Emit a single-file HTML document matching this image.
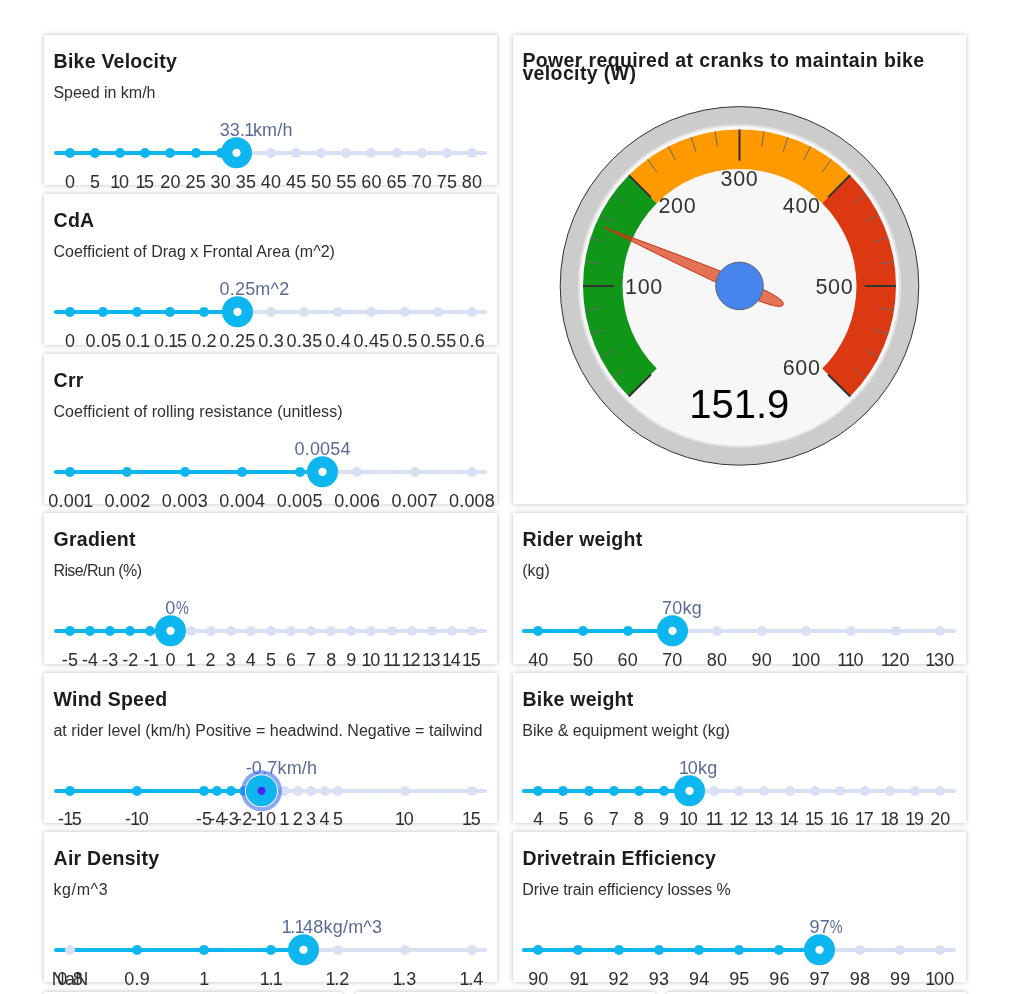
<!DOCTYPE html>
<html lang="en">
<head>
<meta charset="utf-8">
<title>Cycling power calculator</title>
<style>
html,body{margin:0;padding:0;background:#fff;}
body{width:1024px;height:994px;overflow:hidden;position:relative;font-family:"Liberation Sans",sans-serif;color:#1f1f1f;}
.card{position:absolute;background:#fff;box-shadow:0 0 5px rgba(0,0,0,.27);width:453.5px;height:150.4px;}
.card h3{position:absolute;left:9.8px;top:13.95px;margin:0;font-size:19.5px;line-height:24px;font-weight:bold;letter-spacing:.25px;white-space:nowrap;color:#1c1c1c;}
.card p{position:absolute;left:9.7px;top:49px;margin:0;font-size:16px;line-height:18px;letter-spacing:-.02px;white-space:nowrap;color:#303030;}
.sl{position:absolute;left:10px;right:10px;top:116px;height:4px;}
.sl.r{left:9.5px;right:10.5px;}
.rail{position:absolute;left:0;right:0;top:0;height:4px;border-radius:2px;background:#d9e0f3;}
.proc{position:absolute;left:0;top:0;height:4px;border-radius:2px;background:#0db6ee;}
.marks{position:absolute;left:16.2px;width:402px;top:0;height:4px;}
.m{position:absolute;top:-3px;width:10px;height:10px;margin-left:-5px;border-radius:50%;background:#d9e0f3;}
.m.a{background:#0db6ee;}
.l{position:absolute;top:20.9px;width:80px;margin-left:-40px;text-align:center;font-size:18px;line-height:20px;letter-spacing:.2px;text-indent:.2px;color:#2e2e2e;white-space:nowrap;}
.dot{position:absolute;top:-14px;width:31px;height:31px;margin-left:-15.5px;transform:translate(0,.3px);border-radius:50%;background:radial-gradient(circle at 50% 50%,#fff 0,#fff 3.7px,#0db6ee 4.5px,#0db6ee 100%);}
.dot.f{box-shadow:0 0 0 1px #fff,0 0 0 5px rgba(66,112,240,.62);}
.dot.f{background:radial-gradient(circle at 50% 50%,#4a25f0 0,#4a25f0 3.6px,#0db6ee 4.4px,#0db6ee 100%);}
.tip{position:absolute;top:-31.1px;width:0;height:20px;font-size:18px;line-height:20px;letter-spacing:.2px;color:#5b6b95;white-space:nowrap;}
.tip b{position:absolute;top:0;left:0;transform:translateX(-50%);font-weight:normal;}
.l i,.tip i{font-style:normal;margin:0 -1.6px 0 -1px;}
.tip u{position:absolute;left:100%;top:0;text-decoration:none;}
.tip u.p{transform:scaleX(.8);transform-origin:0 50%;}

.card h3.gt{line-height:13px;top:18.6px;letter-spacing:.37px;}
</style>
</head>
<body>
<div class="card" style="left:43.75px;top:35.0px;width:453.5px">
<h3>Bike Velocity</h3>
<p>Speed in km/h</p>
<div class="sl"><div class="rail"></div>
<div class="proc" style="width:calc(16.2px + 402px * 0.4138)"></div>
<div class="marks">
<span class="m a" style="left:0%"></span>
<span class="m a" style="left:6.25%"></span>
<span class="m a" style="left:12.5%"></span>
<span class="m a" style="left:18.75%"></span>
<span class="m a" style="left:25%"></span>
<span class="m a" style="left:31.25%"></span>
<span class="m a" style="left:37.5%"></span>
<span class="m" style="left:43.75%"></span>
<span class="m" style="left:50%"></span>
<span class="m" style="left:56.25%"></span>
<span class="m" style="left:62.5%"></span>
<span class="m" style="left:68.75%"></span>
<span class="m" style="left:75%"></span>
<span class="m" style="left:81.25%"></span>
<span class="m" style="left:87.5%"></span>
<span class="m" style="left:93.75%"></span>
<span class="m" style="left:100%"></span>
<span class="l" style="left:0%">0</span>
<span class="l" style="left:6.25%">5</span>
<span class="l" style="left:12.5%"><i>1</i>0</span>
<span class="l" style="left:18.75%"><i>1</i>5</span>
<span class="l" style="left:25%">20</span>
<span class="l" style="left:31.25%">25</span>
<span class="l" style="left:37.5%">30</span>
<span class="l" style="left:43.75%">35</span>
<span class="l" style="left:50%">40</span>
<span class="l" style="left:56.25%">45</span>
<span class="l" style="left:62.5%">50</span>
<span class="l" style="left:68.75%">55</span>
<span class="l" style="left:75%">60</span>
<span class="l" style="left:81.25%">65</span>
<span class="l" style="left:87.5%">70</span>
<span class="l" style="left:93.75%">75</span>
<span class="l" style="left:100%">80</span>
<span class="tip" style="left:41.375%"><b>33.<i>1</i><u>km/h</u></b></span>
<span class="dot" style="left:41.375%"></span>
</div></div>
</div>
<div class="card" style="left:43.75px;top:194.4px;width:453.5px">
<h3>CdA</h3>
<p style="letter-spacing:0.01px">Coefficient of Drag x Frontal Area (m^2)</p>
<div class="sl"><div class="rail"></div>
<div class="proc" style="width:calc(16.2px + 402px * 0.4167)"></div>
<div class="marks">
<span class="m a" style="left:0%"></span>
<span class="m a" style="left:8.3333%"></span>
<span class="m a" style="left:16.6667%"></span>
<span class="m a" style="left:25%"></span>
<span class="m a" style="left:33.3333%"></span>
<span class="m a" style="left:41.6667%"></span>
<span class="m" style="left:50%"></span>
<span class="m" style="left:58.3333%"></span>
<span class="m" style="left:66.6667%"></span>
<span class="m" style="left:75%"></span>
<span class="m" style="left:83.3333%"></span>
<span class="m" style="left:91.6667%"></span>
<span class="m" style="left:100%"></span>
<span class="l" style="left:0%">0</span>
<span class="l" style="left:8.3333%">0.05</span>
<span class="l" style="left:16.6667%">0.<i>1</i></span>
<span class="l" style="left:25%">0.<i>1</i>5</span>
<span class="l" style="left:33.3333%">0.2</span>
<span class="l" style="left:41.6667%">0.25</span>
<span class="l" style="left:50%">0.3</span>
<span class="l" style="left:58.3333%">0.35</span>
<span class="l" style="left:66.6667%">0.4</span>
<span class="l" style="left:75%">0.45</span>
<span class="l" style="left:83.3333%">0.5</span>
<span class="l" style="left:91.6667%">0.55</span>
<span class="l" style="left:100%">0.6</span>
<span class="tip" style="left:41.6667%"><b>0.25<u>m^2</u></b></span>
<span class="dot" style="left:41.6667%"></span>
</div></div>
</div>
<div class="card" style="left:43.75px;top:353.8px;width:453.5px">
<h3>Crr</h3>
<p style="letter-spacing:0.05px">Coefficient of rolling resistance (unitless)</p>
<div class="sl"><div class="rail"></div>
<div class="proc" style="width:calc(16.2px + 402px * 0.6286)"></div>
<div class="marks">
<span class="m a" style="left:0%"></span>
<span class="m a" style="left:14.2857%"></span>
<span class="m a" style="left:28.5714%"></span>
<span class="m a" style="left:42.8571%"></span>
<span class="m a" style="left:57.1429%"></span>
<span class="m" style="left:71.4286%"></span>
<span class="m" style="left:85.7143%"></span>
<span class="m" style="left:100%"></span>
<span class="l" style="left:0%">0.00<i>1</i></span>
<span class="l" style="left:14.2857%">0.002</span>
<span class="l" style="left:28.5714%">0.003</span>
<span class="l" style="left:42.8571%">0.004</span>
<span class="l" style="left:57.1429%">0.005</span>
<span class="l" style="left:71.4286%">0.006</span>
<span class="l" style="left:85.7143%">0.007</span>
<span class="l" style="left:100%">0.008</span>
<span class="tip" style="left:62.8571%"><b>0.0054<u></u></b></span>
<span class="dot" style="left:62.8571%"></span>
</div></div>
</div>
<div class="card" style="left:43.75px;top:513.2px;width:453.5px">
<h3>Gradient</h3>
<p style="letter-spacing:-0.6px">Rise/Run (%)</p>
<div class="sl"><div class="rail"></div>
<div class="proc" style="width:calc(16.2px + 402px * 0.25)"></div>
<div class="marks">
<span class="m a" style="left:0%"></span>
<span class="m a" style="left:5%"></span>
<span class="m a" style="left:10%"></span>
<span class="m a" style="left:15%"></span>
<span class="m a" style="left:20%"></span>
<span class="m a" style="left:25%"></span>
<span class="m" style="left:30%"></span>
<span class="m" style="left:35%"></span>
<span class="m" style="left:40%"></span>
<span class="m" style="left:45%"></span>
<span class="m" style="left:50%"></span>
<span class="m" style="left:55%"></span>
<span class="m" style="left:60%"></span>
<span class="m" style="left:65%"></span>
<span class="m" style="left:70%"></span>
<span class="m" style="left:75%"></span>
<span class="m" style="left:80%"></span>
<span class="m" style="left:85%"></span>
<span class="m" style="left:90%"></span>
<span class="m" style="left:95%"></span>
<span class="m" style="left:100%"></span>
<span class="l" style="left:0%">-5</span>
<span class="l" style="left:5%">-4</span>
<span class="l" style="left:10%">-3</span>
<span class="l" style="left:15%">-2</span>
<span class="l" style="left:20%">-<i>1</i></span>
<span class="l" style="left:25%">0</span>
<span class="l" style="left:30%"><i>1</i></span>
<span class="l" style="left:35%">2</span>
<span class="l" style="left:40%">3</span>
<span class="l" style="left:45%">4</span>
<span class="l" style="left:50%">5</span>
<span class="l" style="left:55%">6</span>
<span class="l" style="left:60%">7</span>
<span class="l" style="left:65%">8</span>
<span class="l" style="left:70%">9</span>
<span class="l" style="left:75%"><i>1</i>0</span>
<span class="l" style="left:80%"><i>1</i><i>1</i></span>
<span class="l" style="left:85%"><i>1</i>2</span>
<span class="l" style="left:90%"><i>1</i>3</span>
<span class="l" style="left:95%"><i>1</i>4</span>
<span class="l" style="left:100%"><i>1</i>5</span>
<span class="tip" style="left:25%"><b>0<u class="p">%</u></b></span>
<span class="dot" style="left:25%"></span>
</div></div>
</div>
<div class="card" style="left:43.75px;top:672.6px;width:453.5px">
<h3>Wind Speed</h3>
<p style="letter-spacing:0.02px">at rider level (km/h) Positive = headwind. Negative = tailwind</p>
<div class="sl"><div class="rail"></div>
<div class="proc" style="width:calc(16.2px + 402px * 0.4767)"></div>
<div class="marks">
<span class="m a" style="left:0%"></span>
<span class="m a" style="left:16.6667%"></span>
<span class="m a" style="left:33.3333%"></span>
<span class="m a" style="left:36.6667%"></span>
<span class="m a" style="left:40%"></span>
<span class="m a" style="left:43.3333%"></span>
<span class="m a" style="left:46.6667%"></span>
<span class="m" style="left:50%"></span>
<span class="m" style="left:53.3333%"></span>
<span class="m" style="left:56.6667%"></span>
<span class="m" style="left:60%"></span>
<span class="m" style="left:63.3333%"></span>
<span class="m" style="left:66.6667%"></span>
<span class="m" style="left:83.3333%"></span>
<span class="m" style="left:100%"></span>
<span class="l" style="left:0%">-<i>1</i>5</span>
<span class="l" style="left:16.6667%">-<i>1</i>0</span>
<span class="l" style="left:33.3333%">-5</span>
<span class="l" style="left:36.6667%">-4</span>
<span class="l" style="left:40%">-3</span>
<span class="l" style="left:43.3333%">-2</span>
<span class="l" style="left:46.6667%">-<i>1</i></span>
<span class="l" style="left:50%">0</span>
<span class="l" style="left:53.3333%"><i>1</i></span>
<span class="l" style="left:56.6667%">2</span>
<span class="l" style="left:60%">3</span>
<span class="l" style="left:63.3333%">4</span>
<span class="l" style="left:66.6667%">5</span>
<span class="l" style="left:83.3333%"><i>1</i>0</span>
<span class="l" style="left:100%"><i>1</i>5</span>
<span class="tip" style="left:47.6667%"><b>-0.7<u>km/h</u></b></span>
<span class="dot f" style="left:47.6667%"></span>
</div></div>
</div>
<div class="card" style="left:43.75px;top:832.0px;width:453.5px">
<h3>Air Density</h3>
<p style="letter-spacing:0.62px">kg/m^3</p>
<div class="sl"><div class="rail"></div>
<div class="proc" style="width:calc(16.2px + 402px * 0.58)"></div>
<div class="marks">
<span class="m" style="left:0%"></span>
<span class="m a" style="left:16.6667%"></span>
<span class="m a" style="left:33.3333%"></span>
<span class="m a" style="left:50%"></span>
<span class="m" style="left:66.6667%"></span>
<span class="m" style="left:83.3333%"></span>
<span class="m" style="left:100%"></span>
<span class="l" style="left:0%">NaN</span>
<span class="l" style="left:0%">0.8</span>
<span class="l" style="left:16.6667%">0.9</span>
<span class="l" style="left:33.3333%"><i>1</i></span>
<span class="l" style="left:50%"><i>1</i>.<i>1</i></span>
<span class="l" style="left:66.6667%"><i>1</i>.2</span>
<span class="l" style="left:83.3333%"><i>1</i>.3</span>
<span class="l" style="left:100%"><i>1</i>.4</span>
<span class="tip" style="left:58%"><b><i>1</i>.<i>1</i>48<u>kg/m^3</u></b></span>
<span class="dot" style="left:58%"></span>
</div></div>
</div>
<div class="card" style="left:512.6px;top:513.2px;width:453.6px">
<h3>Rider weight</h3>
<p>(kg)</p>
<div class="sl r"><div class="rail"></div>
<div class="proc" style="width:calc(16.2px + 402px * 0.3333)"></div>
<div class="marks">
<span class="m a" style="left:0%"></span>
<span class="m a" style="left:11.1111%"></span>
<span class="m a" style="left:22.2222%"></span>
<span class="m a" style="left:33.3333%"></span>
<span class="m" style="left:44.4444%"></span>
<span class="m" style="left:55.5556%"></span>
<span class="m" style="left:66.6667%"></span>
<span class="m" style="left:77.7778%"></span>
<span class="m" style="left:88.8889%"></span>
<span class="m" style="left:100%"></span>
<span class="l" style="left:0%">40</span>
<span class="l" style="left:11.1111%">50</span>
<span class="l" style="left:22.2222%">60</span>
<span class="l" style="left:33.3333%">70</span>
<span class="l" style="left:44.4444%">80</span>
<span class="l" style="left:55.5556%">90</span>
<span class="l" style="left:66.6667%"><i>1</i>00</span>
<span class="l" style="left:77.7778%"><i>1</i><i>1</i>0</span>
<span class="l" style="left:88.8889%"><i>1</i>20</span>
<span class="l" style="left:100%"><i>1</i>30</span>
<span class="tip" style="left:33.3333%"><b>70<u>kg</u></b></span>
<span class="dot" style="left:33.3333%"></span>
</div></div>
</div>
<div class="card" style="left:512.6px;top:672.6px;width:453.6px">
<h3>Bike weight</h3>
<p>Bike &amp; equipment weight (kg)</p>
<div class="sl r"><div class="rail"></div>
<div class="proc" style="width:calc(16.2px + 402px * 0.375)"></div>
<div class="marks">
<span class="m a" style="left:0%"></span>
<span class="m a" style="left:6.25%"></span>
<span class="m a" style="left:12.5%"></span>
<span class="m a" style="left:18.75%"></span>
<span class="m a" style="left:25%"></span>
<span class="m a" style="left:31.25%"></span>
<span class="m a" style="left:37.5%"></span>
<span class="m" style="left:43.75%"></span>
<span class="m" style="left:50%"></span>
<span class="m" style="left:56.25%"></span>
<span class="m" style="left:62.5%"></span>
<span class="m" style="left:68.75%"></span>
<span class="m" style="left:75%"></span>
<span class="m" style="left:81.25%"></span>
<span class="m" style="left:87.5%"></span>
<span class="m" style="left:93.75%"></span>
<span class="m" style="left:100%"></span>
<span class="l" style="left:0%">4</span>
<span class="l" style="left:6.25%">5</span>
<span class="l" style="left:12.5%">6</span>
<span class="l" style="left:18.75%">7</span>
<span class="l" style="left:25%">8</span>
<span class="l" style="left:31.25%">9</span>
<span class="l" style="left:37.5%"><i>1</i>0</span>
<span class="l" style="left:43.75%"><i>1</i><i>1</i></span>
<span class="l" style="left:50%"><i>1</i>2</span>
<span class="l" style="left:56.25%"><i>1</i>3</span>
<span class="l" style="left:62.5%"><i>1</i>4</span>
<span class="l" style="left:68.75%"><i>1</i>5</span>
<span class="l" style="left:75%"><i>1</i>6</span>
<span class="l" style="left:81.25%"><i>1</i>7</span>
<span class="l" style="left:87.5%"><i>1</i>8</span>
<span class="l" style="left:93.75%"><i>1</i>9</span>
<span class="l" style="left:100%">20</span>
<span class="tip" style="left:37.5%"><b><i>1</i>0<u>kg</u></b></span>
<span class="dot" style="left:37.5%"></span>
</div></div>
</div>
<div class="card" style="left:512.6px;top:832.0px;width:453.6px">
<h3>Drivetrain Efficiency</h3>
<p style="letter-spacing:-0.13px">Drive train efficiency losses %</p>
<div class="sl r"><div class="rail"></div>
<div class="proc" style="width:calc(16.2px + 402px * 0.7)"></div>
<div class="marks">
<span class="m a" style="left:0%"></span>
<span class="m a" style="left:10%"></span>
<span class="m a" style="left:20%"></span>
<span class="m a" style="left:30%"></span>
<span class="m a" style="left:40%"></span>
<span class="m a" style="left:50%"></span>
<span class="m a" style="left:60%"></span>
<span class="m a" style="left:70%"></span>
<span class="m" style="left:80%"></span>
<span class="m" style="left:90%"></span>
<span class="m" style="left:100%"></span>
<span class="l" style="left:0%">90</span>
<span class="l" style="left:10%">9<i>1</i></span>
<span class="l" style="left:20%">92</span>
<span class="l" style="left:30%">93</span>
<span class="l" style="left:40%">94</span>
<span class="l" style="left:50%">95</span>
<span class="l" style="left:60%">96</span>
<span class="l" style="left:70%">97</span>
<span class="l" style="left:80%">98</span>
<span class="l" style="left:90%">99</span>
<span class="l" style="left:100%"><i>1</i>00</span>
<span class="tip" style="left:70%"><b>97<u class="p">%</u></b></span>
<span class="dot" style="left:70%"></span>
</div></div>
</div>
<div class="card" style="left:512.6px;top:35.0px;width:453.6px;height:469.2px">
<h3 class="gt">Power required at cranks to maintain bike<br>velocity (W)</h3>
<svg class="gauge" width="453.6" height="469.2" viewBox="512.6 35 453.6 469.2" style="position:absolute;left:0;top:0">
<g>
<circle cx="739.1" cy="285.9" r="179.3" fill="#cccccc" stroke="#333333" stroke-width="1"/>
<circle cx="739.1" cy="285.9" r="160.8" fill="#f7f7f7" stroke="#e0e0e0" stroke-width="2"/>
<path d="M628.44,396.56A156.5,156.5 0 0 1 628.44,175.24L656.37,203.17A117,117 0 0 0 656.37,368.63Z" fill="#109618"/>
<path d="M628.44,175.24A156.5,156.5 0 0 1 849.76,175.24L821.83,203.17A117,117 0 0 0 656.37,203.17Z" fill="#ff9900"/>
<path d="M849.76,175.24A156.5,156.5 0 0 1 849.76,396.56L821.83,368.63A117,117 0 0 0 821.83,203.17Z" fill="#dc3912"/>
<text x="738.9" y="418" text-anchor="middle" font-family="Liberation Sans, Arial, sans-serif" font-size="40" fill="#000000">151.9</text>
<path d="M628.44,396.56L650.57,374.43M582.6,285.9L613.9,285.9M628.44,175.24L650.57,197.37M739.1,129.4L739.1,160.7M849.76,175.24L827.63,197.37M895.6,285.9L864.3,285.9M849.76,396.56L827.63,374.43" stroke="#333333" stroke-width="2" fill="none"/>
<path d="M612.49,377.89L625.03,368.78M599.66,356.95L613.47,349.91M590.26,334.26L605,329.47M584.53,310.38L599.84,307.96M584.53,261.42L599.84,263.84M590.26,237.54L605,242.33M599.66,214.85L613.47,221.89M612.49,193.91L625.03,203.02M647.11,159.29L656.22,171.83M668.05,146.46L675.09,160.27M690.74,137.06L695.53,151.8M714.62,131.33L717.04,146.64M763.58,131.33L761.16,146.64M787.46,137.06L782.67,151.8M810.15,146.46L803.11,160.27M831.09,159.29L821.98,171.83M865.71,193.91L853.17,203.02M878.54,214.85L864.73,221.89M887.94,237.54L873.2,242.33M893.67,261.42L878.36,263.84M893.67,310.38L878.36,307.96M887.94,334.26L873.2,329.47M878.54,356.95L864.73,349.91M865.71,377.89L853.17,368.78" stroke="#666666" stroke-width="1" fill="none"/>
<g font-family="Liberation Sans, Arial, sans-serif" font-size="21.5" letter-spacing="0.7" fill="#333333">
<text x="624.6" y="293.8" text-anchor="start">100</text>
<text x="658" y="212.7" text-anchor="start">200</text>
<text x="739.1" y="186" text-anchor="middle">300</text>
<text x="820.3" y="212.7" text-anchor="end">400</text>
<text x="853" y="293.8" text-anchor="end">500</text>
<text x="820.2" y="374.7" text-anchor="end">600</text>
</g>
</g>
<g>
<path d="M603.5,227.35C742.51,278 786.12,296.83 782.71,304.73C779.3,312.63 735.69,293.8 603.5,227.35Z" fill="#dc3912" fill-opacity="0.7" stroke="#c63310" stroke-width="1"/>
<circle cx="739.1" cy="285.9" r="23.8" fill="#4684ee" stroke="#666666" stroke-width="1"/>
</g>
</svg>
</div>
<div class="card" style="left:43.75px;top:992px;width:298.7px;height:100px"></div>
<div class="card" style="left:355.9px;top:992px;width:298.9px;height:100px"></div>
<div class="card" style="left:667px;top:992px;width:299.2px;height:100px"></div>
</body>
</html>
